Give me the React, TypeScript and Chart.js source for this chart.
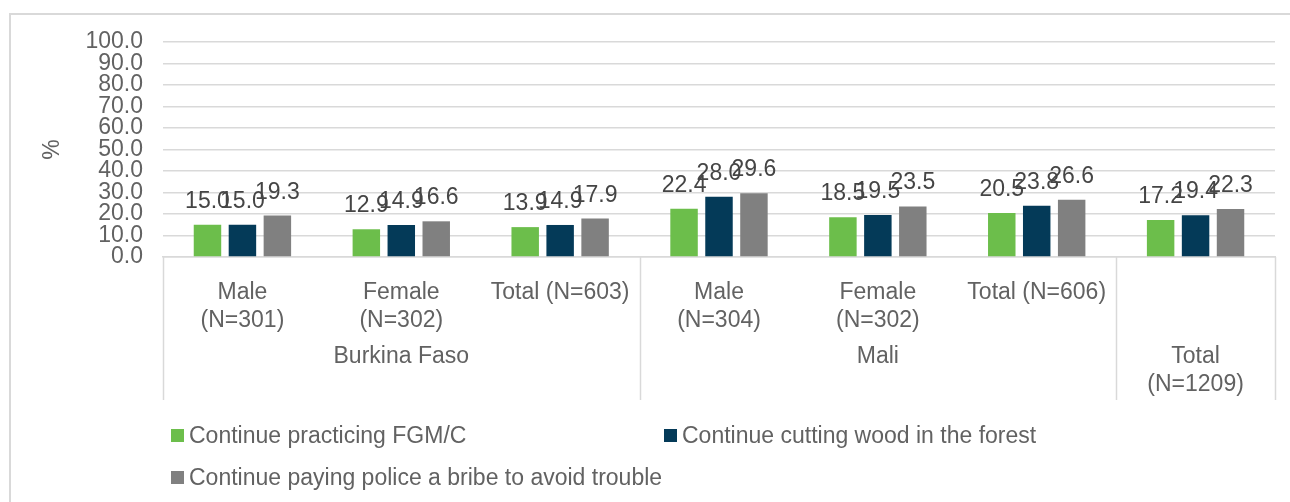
import React, { useEffect, useRef } from "react";
import { Chart, registerables } from "chart.js";

Chart.register(...registerables);

// ---- data ----
const subLabels: (string | string[])[] = [
  ["Male", "(N=301)"],
  ["Female", "(N=302)"],
  "Total (N=603)",
  ["Male", "(N=304)"],
  ["Female", "(N=302)"],
  "Total (N=606)",
  "",
];
const groupNames: string[][] = [["Burkina Faso"], ["Mali"], ["Total", "(N=1209)"]];
const groupSpans = [3, 3, 1];

const seriesNames = [
  "Continue practicing FGM/C",
  "Continue cutting wood in the forest",
  "Continue paying police a bribe to avoid trouble",
];
const fgmValues = [15.0, 12.9, 13.9, 22.4, 18.5, 20.5, 17.2];
const woodValues = [15.0, 14.9, 14.9, 28.0, 19.5, 23.8, 19.4];
const bribeValues = [19.3, 16.6, 17.9, 29.6, 23.5, 26.6, 22.3];
const seriesColors = ["#6cbe4b", "#043a58", "#808080"];

const yMin = 0;
const yMax = 100;
const yStep = 10;
const yTitle = "%";

// ---- style ----
const FONT = '"Liberation Sans", Arial, sans-serif';
const TEXT = "#626262";
const LABEL = "#454545";
const LINE = "#d9d9d9";
const FS = 23;

const dataLabelPlugin = {
  id: "dataLabels",
  afterDatasetsDraw(chart: any) {
    const ctx = chart.ctx;
    ctx.save();
    ctx.font = `${FS}px ${FONT}`;
    ctx.fillStyle = LABEL;
    ctx.textAlign = "center";
    ctx.textBaseline = "alphabetic";
    chart.data.datasets.forEach((ds: any, di: number) => {
      const meta = chart.getDatasetMeta(di);
      meta.data.forEach((el: any, i: number) => {
        ctx.fillText(Number(ds.data[i]).toFixed(1), el.x, el.y - 17);
      });
    });
    ctx.restore();
  },
};

const groupAxisPlugin = {
  id: "groupAxis",
  afterDraw(chart: any) {
    const ctx = chart.ctx;
    const area = chart.chartArea;
    const n = subLabels.length;
    const w = (area.right - area.left) / n;
    ctx.save();
    ctx.strokeStyle = LINE;
    ctx.lineWidth = 1.5;
    let start = 0;
    const bounds = [0];
    groupSpans.forEach((s) => {
      start += s;
      bounds.push(start);
    });
    bounds.forEach((b) => {
      const px = Math.round(area.left + b * w) + 0.5;
      ctx.beginPath();
      ctx.moveTo(px, area.bottom);
      ctx.lineTo(px, area.bottom + 143);
      ctx.stroke();
    });
    ctx.font = `${FS}px ${FONT}`;
    ctx.fillStyle = TEXT;
    ctx.textAlign = "center";
    ctx.textBaseline = "middle";
    start = 0;
    groupSpans.forEach((s, gi) => {
      const cx = area.left + (start + s / 2) * w;
      groupNames[gi].forEach((line, li) => {
        ctx.fillText(line, cx, area.bottom + 100 + li * 28);
      });
      start += s;
    });
    ctx.restore();
  },
};

const legendPlugin = {
  id: "customLegend",
  afterDraw(chart: any) {
    const ctx = chart.ctx;
    const spots = [
      { x: 171, y: 435.5 },
      { x: 664, y: 435.5 },
      { x: 171, y: 477.5 },
    ];
    ctx.save();
    ctx.font = `${FS}px ${FONT}`;
    ctx.textAlign = "left";
    ctx.textBaseline = "middle";
    chart.data.datasets.forEach((ds: any, i: number) => {
      const p = spots[i];
      ctx.fillStyle = ds.backgroundColor;
      ctx.fillRect(p.x, p.y - 6.5, 13, 13);
      ctx.fillStyle = TEXT;
      ctx.fillText(ds.label, p.x + 18, p.y + 1);
    });
    ctx.restore();
  },
};

export default function App() {
  const canvasRef = useRef<HTMLCanvasElement | null>(null);

  useEffect(() => {
    if (!canvasRef.current) return;
    const values = [fgmValues, woodValues, bribeValues];
    const chart = new Chart(canvasRef.current, {
      type: "bar",
      data: {
        labels: subLabels as any,
        datasets: values.map((v, i) => ({
          label: seriesNames[i],
          data: v,
          backgroundColor: seriesColors[i],
          borderWidth: 0,
          categoryPercentage: 0.66,
          barPercentage: 0.786,
        })),
      },
      options: {
        animation: false,
        responsive: true,
        maintainAspectRatio: false,
        layout: { padding: { top: 42, right: 15, bottom: 0, left: 0 } },
        plugins: {
          legend: { display: false },
          tooltip: { enabled: false },
        },
        scales: {
          x: {
            grid: { display: false },
            border: { display: true, color: LINE, width: 1.5 },
            ticks: {
              color: TEXT,
              font: { family: FONT, size: FS, lineHeight: 28 / FS },
              padding: 14,
              maxRotation: 0,
              autoSkip: false,
            },
            afterFit(scale: any) {
              scale.height = 245;
            },
          },
          y: {
            min: yMin,
            max: yMax,
            border: { display: false },
            grid: { color: LINE, lineWidth: 1.5, drawTicks: false },
            ticks: {
              stepSize: yStep,
              autoSkip: false,
              color: TEXT,
              font: { family: FONT, size: FS },
              padding: 20,
              callback: (v: any) => Number(v).toFixed(1),
            },
            title: {
              display: true,
              text: yTitle,
              color: TEXT,
              font: { family: FONT, size: FS },
              padding: { top: 39, bottom: 0 },
            },
            afterFit(scale: any) {
              scale.width = 163;
            },
          },
        },
      },
      plugins: [dataLabelPlugin, groupAxisPlugin, legendPlugin],
    });
    return () => chart.destroy();
  }, []);

  return (
    <div
      style={{
        position: "fixed",
        left: 0,
        top: 0,
        width: 1290,
        height: 502,
        overflow: "hidden",
        background: "#fff",
      }}
    >
      <div
        style={{
          position: "absolute",
          left: 9,
          top: 13,
          width: 1300,
          height: 600,
          border: `2px solid ${LINE}`,
          boxSizing: "border-box",
        }}
      />
      <div style={{ position: "absolute", left: 0, top: 0, width: 1290, height: 502 }}>
        <canvas ref={canvasRef} />
      </div>
    </div>
  );
}
